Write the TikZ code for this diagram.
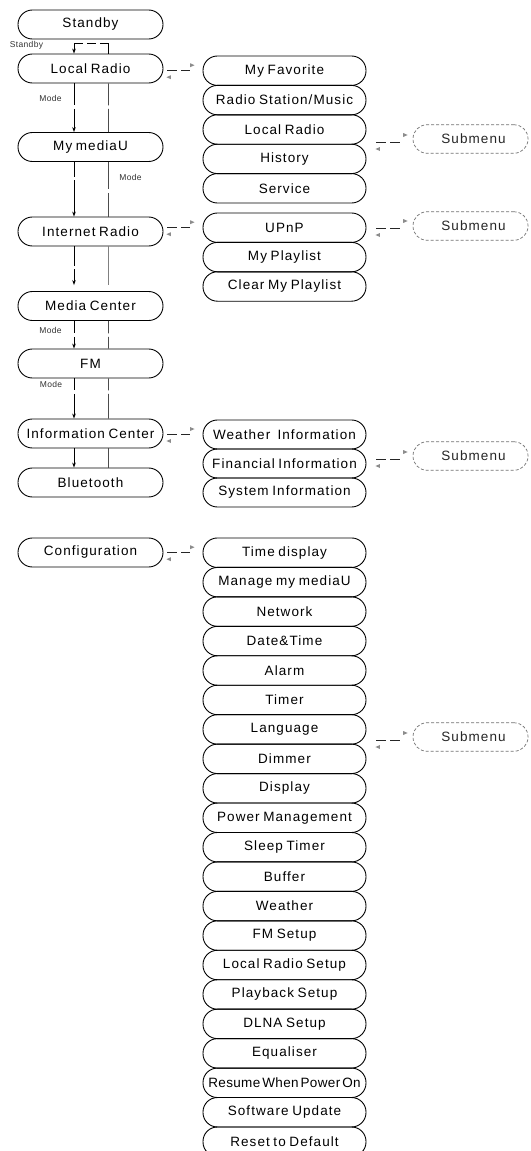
\documentclass[tikz,border=0pt]{standalone}
\usepackage{fontspec}
\newfontfamily\boxfont{Liberation Sans}[LetterSpace=8,WordSpace=0.75]
\newfontfamily\tightfont{Liberation Sans}[LetterSpace=2.5,WordSpace=0.5]
\newfontfamily\labfont{Liberation Sans}[LetterSpace=4]
\usetikzlibrary{calc,arrows.meta}
\newcommand\twoway[4]{% #1 start, #2 end, #3 upper tip dy, #4 lower tip dy
  \draw[linkdash] (#1) -- (#2);
  \fill[tipgray] ($(#2)+(0.5,-#3-2)$) -- ($(#2)+(5,-#3)$) -- ($(#2)+(0.5,-#3+2)$) -- cycle;
  \fill[tipgray] ($(#1)+(3.5,#4-2)$) -- ($(#1)+(-1,#4)$) -- ($(#1)+(3.5,#4+2)$) -- cycle;
}
\newcommand\modeline[5]{% #1 upper node, #2 lower node, #3 x coordinate, #4 gap fraction, #5 style
  \draw[vline,#5] (#3 |- #1.south) -- ($(#3 |- #1.south)!#4!(#3 |- #2.north)$);
  \draw[vline,#5,-{Stealth[length=5pt,width=3.6pt]}] ($(#3 |- #1.south)!#4!(#3 |- #2.north)+(0,3.5)$) -- (#3 |- #2.north);
}
\newcommand\backline[5]{% #1 upper node, #2 lower node, #3 x coordinate, #4 gap fraction, #5 style
  \draw[vline,#5] (#3 |- #1.south) -- ($(#3 |- #1.south)!#4!(#3 |- #2.north)$);
  \draw[vline,#5] ($(#3 |- #1.south)!#4!(#3 |- #2.north)+(0,3.5)$) -- (#3 |- #2.north);
}
\begin{document}
\begin{tikzpicture}[x=1pt,y=-1pt,
  boxtext/.style={font=\boxfont\fontsize{13.5}{15}\selectfont},
  lbox/.style={boxtext, draw, line width=0.9pt, rounded corners=14.4pt,
    minimum width=145pt, minimum height=29pt, inner sep=0pt},
  mbox/.style={boxtext, draw, line width=0.9pt, rounded corners=14.4pt,
    minimum width=163pt, minimum height=29.4pt, inner sep=0pt},
  cbox/.style={mbox, minimum height=29.45pt},
  sbox/.style={boxtext, text=black!85, draw=black!55, line width=0.7pt,
    dash pattern=on 3pt off 2pt, rounded corners=14pt,
    minimum width=115pt, minimum height=28.5pt, inner sep=0pt},
  lab/.style={font=\labfont\fontsize{8.5}{10}\selectfont, text=black!80, inner sep=0pt},
  vline/.style={line width=0.8pt},
  backgray/.style={draw=black!70},
  linkdash/.style={line width=0.8pt, black!85, dash pattern=on 10pt off 4pt},
  tipgray/.style={fill=black!45},
]
\useasboundingbox (0,0) rectangle (530,1151);
\fill[white] (0,0) rectangle (530,1151);

% left column
\node[lbox] (sb) at (90.5,24.5) {Standby};
\node[lbox] (lr) at (90.5,68.5) {Local Radio};
\node[lbox] (mu) at (90.5,147) {My mediaU};
\node[lbox] (ir) at (90.5,231.5) {Internet Radio};
\node[lbox] (mc) at (90.5,306) {Media Center};
\node[lbox] (fm) at (90.5,363.5) {FM};
\node[lbox] (ic) at (90.5,433.5) {Information Center};
\node[lbox] (bt) at (90.5,482.5) {Bluetooth};
\node[lbox] (cf) at (90.5,552.5) {Configuration};

% middle stacks
\node[mbox] (fav)  at (284.5,70.7)  {My Favorite};
\node[mbox] (rsm)  at (284.5,100.1) {Radio Station/Music};
\node[mbox] (mlr)  at (284.5,129.5) {Local Radio};
\node[mbox] (hist) at (284.5,158.9) {History};
\node[mbox] (serv) at (284.5,188.3) {Service};

\node[mbox] (upnp) at (284.5,227.7) {UPnP};
\node[mbox] (mpl)  at (284.5,257.1) {My Playlist};
\node[mbox] (cmp)  at (284.5,286.5) {Clear My Playlist};

\node[mbox, minimum height=29pt] (winf) at (284.5,434.5) {Weather~ Information};
\node[mbox, minimum height=29pt] (finf) at (284.5,463.5) {Financial Information};
\node[mbox, minimum height=29pt] (sinf) at (284.5,492.5) {System Information};

\foreach \t [count=\i from 0] in {Time display, Manage my mediaU, Network, Date\&Time,
  Alarm, Timer, Language, Dimmer, Display, Power Management, Sleep Timer, Buffer,
  Weather, FM Setup, Local Radio Setup, Playback Setup, DLNA Setup, Equaliser,
  {\tightfont\fontsize{13.5}{15}\selectfont Resume When Power On}, Software Update, Reset to Default}
  \node[cbox] (c\i) at (284.5,552.7+29.45*\i) {\t};

% submenus
\node[sbox] (s1) at (470.5,139) {\hspace*{6pt}Submenu};
\node[sbox] (s2) at (470.5,226) {\hspace*{6pt}Submenu};
\node[sbox] (s3) at (470.5,456) {\hspace*{6pt}Submenu};
\node[sbox] (s4) at (470.5,737) {\hspace*{6pt}Submenu};

% left-to-middle connectors
\coordinate (a1) at ($(lr.east |- fav.west)+(4,0)$);
\coordinate (b1) at ($(fav.west)+(-13,0)$);
\twoway{a1}{b1}{5.5}{6.5}
\coordinate (a2) at ($(ir.east |- upnp.west)+(4,0)$);
\coordinate (b2) at ($(upnp.west)+(-13,0)$);
\twoway{a2}{b2}{5.5}{6.5}
\coordinate (a3) at ($(ic.east |- winf.west)+(4,0)$);
\coordinate (b3) at ($(winf.west)+(-13,0)$);
\twoway{a3}{b3}{5.5}{6.5}
\coordinate (a4) at ($(cf.east |- c0.west)+(4,0)$);
\coordinate (b4) at ($(c0.west)+(-13,0)$);
\twoway{a4}{b4}{5.5}{6.5}

% middle-to-submenu connectors
\coordinate (d1) at ($(mlr.east |- s1.west)+(10,3)$);
\coordinate (e1) at ($(s1.west)+(-10,3)$);
\twoway{d1}{e1}{7}{7}
\coordinate (d2) at ($(upnp.east |- s2.west)+(10,2)$);
\coordinate (e2) at ($(s2.west)+(-10,2)$);
\twoway{d2}{e2}{7}{7}
\coordinate (d3) at ($(finf.east |- s3.west)+(10,3)$);
\coordinate (e3) at ($(s3.west)+(-10,3)$);
\twoway{d3}{e3}{7}{7}
\coordinate (d4) at ($(c6.east |- s4.west)+(10,3)$);
\coordinate (e4) at ($(s4.west)+(-10,3)$);
\twoway{d4}{e4}{7}{7}

% mode lines
\coordinate (L) at (74,0);
\coordinate (R) at (108.5,0);
% standby hook
\coordinate (hr) at ($(R |- lr.north)+(0,-10)$);
\coordinate (hl) at ($(L |- lr.north)+(0,-10)$);
\draw[vline] (R |- lr.north) -- (hr);
\draw[vline, dash pattern=on 9pt off 4pt] (hr) -- (hl);
\draw[vline, -{Stealth[length=5pt,width=3.6pt]}] (hl) -- (L |- lr.north);

\modeline{lr}{mu}{L}{0.45}{}
\backline{lr}{mu}{R}{0.45}{backgray}
\modeline{mu}{ir}{L}{0.27}{}
\backline{mu}{ir}{R}{0.5}{backgray}
\coordinate (mcn) at ($(mc.north)+(0,-6)$);
\draw[vline] (L |- ir.south) -- ($(L |- ir.south)!0.5!(L |- mcn)$);
\draw[vline, -{Stealth[length=5pt,width=3.6pt]}] ($(L |- ir.south)!0.5!(L |- mcn)+(0,3.5)$) -- (L |- mcn);
\draw[vline, draw=black!50] (R |- ir.south) -- (R |- mcn);
\modeline{mc}{fm}{L}{0.45}{}
\backline{mc}{fm}{R}{0.45}{backgray}
\modeline{fm}{ic}{L}{0.3}{}
\backline{fm}{ic}{R}{0.3}{backgray}
\draw[vline, -{Stealth[length=5pt,width=3.6pt]}] (L |- ic.south) -- (L |- bt.north);
\draw[vline, backgray] (R |- ic.south) -- (R |- bt.north);

% labels
\node[lab] (lsb) at (26.5,45) {Standby};
\node[lab] (lm1) at (50.5,98) {Mode};
\node[lab] (lm2) at (130.5,177) {Mode};
\node[lab] (lm3) at (50.5,330) {Mode};
\node[lab] (lm4) at (51,384) {Mode};
\end{tikzpicture}
\end{document}
